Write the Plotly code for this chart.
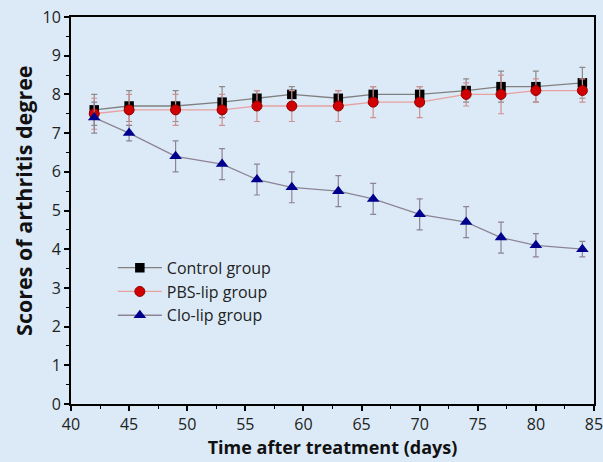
import plotly.graph_objects as go

days = [42, 45, 49, 53, 56, 59, 63, 66, 70, 74, 77, 80, 84]
control = [7.6, 7.7, 7.7, 7.8, 7.9, 8.0, 7.9, 8.0, 8.0, 8.1, 8.2, 8.2, 8.3]
control_err = [0.4, 0.4, 0.4, 0.4, 0.2, 0.2, 0.2, 0.2, 0.2, 0.3, 0.4, 0.4, 0.4]
pbs = [7.5, 7.6, 7.6, 7.6, 7.7, 7.7, 7.7, 7.8, 7.8, 8.0, 8.0, 8.1, 8.1]
pbs_err = [0.4, 0.4, 0.4, 0.4, 0.4, 0.4, 0.4, 0.4, 0.4, 0.3, 0.5, 0.3, 0.3]
clo = [7.4, 7.0, 6.4, 6.2, 5.8, 5.6, 5.5, 5.3, 4.9, 4.7, 4.3, 4.1, 4.0]
clo_err = [0.4, 0.2, 0.4, 0.4, 0.4, 0.4, 0.4, 0.4, 0.4, 0.4, 0.4, 0.3, 0.2]

names = ["Control group", "PBS-lip group", "Clo-lip group"]
x_title = "Time after treatment (days)"
y_title = "Scores of arthritis degree"

fig = go.Figure()
fig.add_trace(go.Scatter(
    x=days, y=control, name=names[0], mode="lines+markers",
    line=dict(color="#808080", width=1.3),
    marker=dict(symbol="square", size=9.5, color="#000000"),
    error_y=dict(type="data", array=control_err, color="#8a8a8a", thickness=1.2, width=3),
))
fig.add_trace(go.Scatter(
    x=days, y=pbs, name=names[1], mode="lines+markers",
    line=dict(color="#e8a0a0", width=1.3),
    marker=dict(symbol="circle", size=10, color="#d00000", line=dict(color="#900000", width=1)),
    error_y=dict(type="data", array=pbs_err, color="#d09090", thickness=1.2, width=3),
))
fig.add_trace(go.Scatter(
    x=days, y=clo, name=names[2], mode="lines+markers",
    line=dict(color="#8c8494", width=1.3),
    marker=dict(symbol="triangle-up", size=11, color="#00008c"),
    error_y=dict(type="data", array=clo_err, color="#8c8494", thickness=1.2, width=3),
))

font_family = "Open Sans, Noto Sans, DejaVu Sans, sans-serif"
bg = "#dceaf7"

fig.update_layout(
    width=603, height=462,
    paper_bgcolor=bg, plot_bgcolor=bg,
    margin=dict(l=71, r=9, t=17, b=58, autoexpand=False),
    font=dict(family=font_family, size=16, color="#222222"),
    showlegend=True,
    legend=dict(x=0.08, y=0.396, xanchor="left", yanchor="top",
                bgcolor="rgba(0,0,0,0)", font=dict(size=16, color="#222222"),
                tracegroupgap=0, itemwidth=44),
    xaxis=dict(
        range=[40, 85], dtick=5, tick0=40, automargin=False,
        ticklabeloverflow="allow",
        showgrid=False, zeroline=False,
        showline=True, linecolor="#000000", linewidth=1.8, mirror=True,
        ticks="outside", ticklen=5, tickwidth=1.5, tickcolor="#000000",
        minor=dict(ticks="outside", dtick=2.5, ticklen=3, tickwidth=1.3, tickcolor="#000000"),
        title=dict(text="<b>" + x_title + "</b>", font=dict(size=18, color="#111111"), standoff=5),
    ),
    yaxis=dict(
        range=[0, 10], dtick=1, tick0=0, automargin=False,
        ticklabeloverflow="allow",
        showgrid=False, zeroline=False,
        showline=True, linecolor="#000000", linewidth=1.8, mirror=True,
        ticks="outside", ticklen=5, tickwidth=1.5, tickcolor="#000000",
        minor=dict(ticks="outside", dtick=0.5, ticklen=3, tickwidth=1.3, tickcolor="#000000"),
    ),
    annotations=[dict(
        text="<b>" + y_title + "</b>", textangle=-90,
        xref="paper", yref="paper", x=-0.092, y=0.527,
        xanchor="center", yanchor="middle", showarrow=False,
        font=dict(size=21.5, color="#111111"),
    )],
)

fig.write_html(
    "out.html",
    config={"displayModeBar": False},
    post_script=(
        "document.documentElement.style.overflow='hidden';"
        "document.body.style.overflow='hidden';"
        "document.body.style.margin='0';"
        "document.body.style.background='" + bg + "';"
    ),
)
